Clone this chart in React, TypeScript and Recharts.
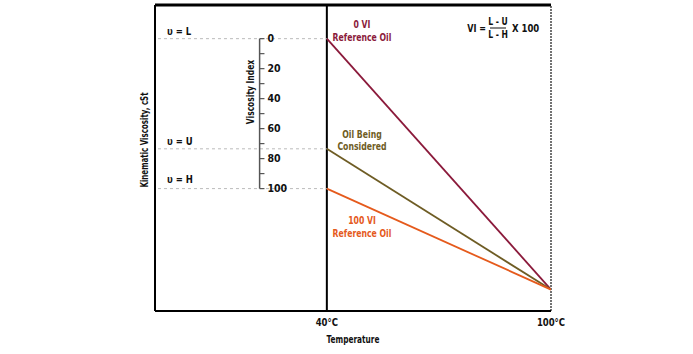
import React from 'react';
import { LineChart, Line, XAxis, YAxis, ReferenceLine, Customized } from 'recharts';

// Temperatures (°C) and kinematic viscosity (arbitrary cSt units)
const temps = [40, 100];
const zeroVI = [89, 7];
const oilConsidered = [53, 7];
const hundredVI = [40, 7];

// reference viscosities at 40°C
const L = 89;
const U = 53;
const H = 40;

const viTicks = [0, 10, 20, 30, 40, 50, 60, 70, 80, 90, 100];
const viLabels = ['0', '', '20', '', '40', '', '60', '', '80', '', '100'];
const xTickLabels: Record<number, string> = { 40: '40°C', 100: '100°C' };

const data = temps.map((t, i) => ({
  t,
  zero: zeroVI[i],
  oil: oilConsidered[i],
  hundred: hundredVI[i],
}));

const FONT = '"DejaVu Sans", sans-serif';
const MAROON = '#8b1a3b';
const OLIVE = '#6e5c24';
const ORANGE = '#e55a1c';

const viToVisc = (v: number) => L - ((L - H) * v) / 100;
const VI_X = 22;

const txtStyle: React.CSSProperties = { fontStretch: 'condensed' };

type TProps = {
  x: number;
  y: number;
  children: React.ReactNode;
  anchor?: 'start' | 'middle' | 'end';
  sx?: number;
  rot?: number;
  fill?: string;
  size?: number;
};

const T = ({ x, y, children, anchor = 'middle', sx = 0.82, rot = 0, fill = '#111', size = 10.5 }: TProps) => (
  <text
    transform={`translate(${x},${y}) rotate(${rot}) scale(${sx},1)`}
    textAnchor={anchor}
    fontFamily={FONT}
    fontWeight="bold"
    fontSize={size}
    fill={fill}
    style={txtStyle}
  >
    {children}
  </text>
);

const XTick = (props: any) => {
  const { x, y, payload } = props;
  return (
    <T x={x} y={y + 7} sx={0.9}>
      {xTickLabels[payload.value]}
    </T>
  );
};

const Annotations = () => (
  <g>
    <T x={353} y={343} sx={0.78}>Temperature</T>
    <T x={148} y={140} rot={-90} sx={0.75}>Kinematic Viscosity, cSt</T>
    <T x={254} y={92} rot={-90} sx={0.8}>Viscosity Index</T>

    <T x={167} y={35} anchor="start" sx={0.9}>υ = L</T>
    <T x={167} y={145} anchor="start" sx={0.9}>υ = U</T>
    <T x={167} y={183} anchor="start" sx={0.9}>υ = H</T>

    <T x={362} y={28} fill={MAROON}>0 VI</T>
    <T x={362} y={41} fill={MAROON}>Reference Oil</T>
    <T x={362} y={138} fill={OLIVE}>Oil Being</T>
    <T x={362} y={150} fill={OLIVE}>Considered</T>
    <T x={362} y={224} fill={ORANGE}>100 VI</T>
    <T x={362} y={237} fill={ORANGE}>Reference Oil</T>

    <T x={486} y={32} anchor="end" sx={0.85}>VI =</T>
    <T x={498} y={25} size={10} sx={0.85}>L - U</T>
    <line x1={490} x2={506} y1={28} y2={28} stroke="#111" strokeWidth={1} />
    <T x={498} y={38} size={10} sx={0.85}>L - H</T>
    <T x={512} y={32} anchor="start" sx={0.9}>X 100</T>
  </g>
);

export default function App() {
  return (
    <div style={{ position: 'absolute', left: 0, top: 0, width: 693, height: 354, background: '#fff' }}>
      <LineChart width={693} height={354} data={data} margin={{ top: 5, right: 142, bottom: 13, left: 155 }}>
        <XAxis
          type="number"
          dataKey="t"
          domain={[-6, 100]}
          ticks={[40, 100]}
          height={30}
          allowDataOverflow
          axisLine={{ stroke: '#000', strokeWidth: 2 }}
          tickLine={false}
          tick={<XTick />}
          interval={0}
        />
        <YAxis type="number" domain={[0, 100]} allowDataOverflow hide />
        <ReferenceLine y={100} stroke="#000" strokeWidth={3} />
        <ReferenceLine y={0} stroke="#000" strokeWidth={2} />
        <ReferenceLine x={-6} stroke="#000" strokeWidth={2} />
        <ReferenceLine x={100} stroke="#444" strokeWidth={1.5} strokeDasharray="2 1" />
        <ReferenceLine x={40} stroke="#000" strokeWidth={2} />

        {[L, U, H].map((v) => (
          <ReferenceLine
            key={'d' + v}
            segment={[{ x: -5.2, y: v }, { x: 40, y: v }]}
            stroke="#bbb"
            strokeDasharray="3 3"
            strokeWidth={1}
          />
        ))}

        <ReferenceLine
          segment={[{ x: VI_X, y: viToVisc(0) }, { x: VI_X, y: viToVisc(100) }]}
          stroke="#555"
          strokeWidth={1.5}
        />
        {viTicks.map((v, i) => (
          <ReferenceLine
            key={'t' + v}
            segment={[{ x: VI_X, y: viToVisc(v) }, { x: VI_X + 1.3, y: viToVisc(v) }]}
            stroke="#555"
            strokeWidth={1.2}
            label={
              viLabels[i]
                ? { value: viLabels[i], position: 'right', offset: 3, fill: '#111', fontFamily: FONT, fontWeight: 'bold', fontSize: 10.5, style: txtStyle }
                : undefined
            }
          />
        ))}

        <Line dataKey="zero" stroke={MAROON} strokeWidth={1.8} dot={false} isAnimationActive={false} />
        <Line dataKey="oil" stroke={OLIVE} strokeWidth={1.8} dot={false} isAnimationActive={false} />
        <Line dataKey="hundred" stroke={ORANGE} strokeWidth={1.8} dot={false} isAnimationActive={false} />

        <Customized component={Annotations} />
      </LineChart>
    </div>
  );
}
